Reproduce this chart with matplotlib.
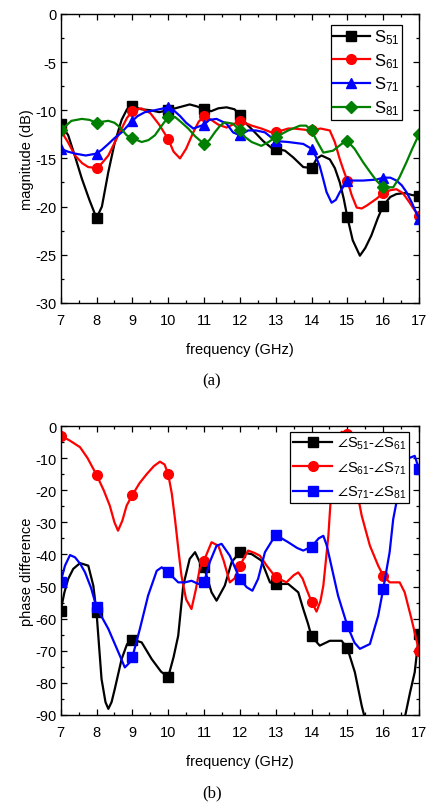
import numpy as np
import matplotlib
matplotlib.use("Agg")
import matplotlib.pyplot as plt
from matplotlib.ticker import MultipleLocator

plt.rcParams['font.family'] = ['Liberation Sans', 'DejaVu Sans']
plt.rcParams['mathtext.fontset'] = 'custom'
plt.rcParams['mathtext.rm'] = 'Liberation Sans'
plt.rcParams['mathtext.it'] = 'Liberation Sans:italic'
plt.rcParams['mathtext.bf'] = 'Liberation Sans:bold'
plt.rcParams['mathtext.fallback'] = 'stixsans'
plt.rcParams['axes.unicode_minus'] = False

# ---------------- (a) magnitude data ----------------
f_s51 = [7.0, 7.21, 7.4, 7.59, 7.8, 8.0, 8.15, 8.33, 8.5, 8.7, 8.85, 9.0, 9.25, 9.5, 9.75,
         10.0, 10.3, 10.6, 10.8, 11.0, 11.2, 11.4, 11.63, 11.85, 12.0, 12.18, 12.42, 12.65,
         12.88, 13.0, 13.26, 13.49, 13.77, 14.0, 14.15, 14.28, 14.51, 14.65, 14.79, 14.9,
         15.0, 15.15, 15.35, 15.5, 15.67, 15.85, 16.0, 16.2, 16.37, 16.6, 16.8, 17.0]
s51 = [-11.4, -12.6, -14.8, -17.1, -19.3, -21.2, -20.0, -16.4, -13.5, -11.0, -9.9, -9.6, -9.9,
       -10.0, -10.2, -10.0, -9.7, -9.4, -9.6, -9.9, -10.1, -9.8, -9.7, -9.9, -10.5, -11.4,
       -12.3, -13.2, -13.9, -14.0, -14.2, -14.9, -15.9, -16.0, -15.0, -14.7, -15.1, -16.0,
       -17.5, -19.2, -21.1, -23.5, -25.1, -24.3, -23.0, -21.2, -19.9, -19.0, -18.7, -18.6,
       -18.8, -18.9]

f_s61 = [7.0, 7.2, 7.4, 7.6, 7.77, 8.0, 8.15, 8.33, 8.5, 8.7, 8.85, 9.0, 9.25, 9.5, 9.75,
         10.0, 10.15, 10.33, 10.5, 10.7, 10.85, 11.0, 11.2, 11.4, 11.63, 11.85, 12.0, 12.33,
         12.6, 12.88, 13.0, 13.35, 13.5, 13.75, 14.0, 14.25, 14.51, 14.65, 14.79, 14.9, 15.0,
         15.12, 15.26, 15.4, 15.54, 15.81, 16.0, 16.2, 16.37, 16.55, 16.74, 16.88, 17.0]
s61 = [-12.1, -13.3, -14.7, -15.5, -15.9, -16.0, -15.5, -14.7, -13.4, -11.9, -10.8, -10.1,
       -9.8, -10.3, -11.5, -13.0, -14.3, -15.0, -14.0, -12.3, -11.2, -10.6, -11.0, -11.5,
       -11.8, -11.4, -11.1, -11.6, -11.9, -12.3, -12.3, -11.9, -11.9, -12.0, -12.1, -11.9,
       -12.1, -13.3, -15.1, -16.3, -17.3, -18.8, -20.1, -20.2, -19.9, -19.2, -18.6, -18.3,
       -18.2, -18.6, -19.6, -20.4, -21.0]

f_s71 = [7.0, 7.2, 7.4, 7.7, 8.0, 8.15, 8.33, 8.5, 8.7, 9.0, 9.15, 9.35, 9.63, 10.0, 10.15,
         10.33, 10.5, 10.7, 11.0, 11.15, 11.35, 11.63, 11.81, 12.0, 12.23, 12.45, 12.7, 13.0,
         13.35, 13.77, 14.0, 14.12, 14.23, 14.33, 14.42, 14.56, 14.68, 14.79, 15.0, 15.44,
         15.81, 16.0, 16.2, 16.37, 16.52, 16.65, 16.8, 17.0]
s71 = [-14.0, -14.3, -14.5, -14.7, -14.5, -14.1, -13.5, -12.9, -12.3, -11.1, -10.6, -10.2,
       -10.0, -9.7, -10.0, -10.6, -11.3, -11.9, -11.5, -11.0, -10.9, -11.4, -12.3, -12.6,
       -12.1, -12.1, -12.3, -13.2, -13.3, -13.5, -14.0, -14.8, -15.8, -17.2, -18.5, -19.6,
       -19.3, -18.5, -17.3, -17.3, -17.2, -17.0, -17.0, -17.3, -17.8, -18.5, -19.6, -21.3]

f_s81 = [7.0, 7.15, 7.3, 7.59, 7.8, 8.0, 8.15, 8.33, 8.5, 8.6, 8.75, 8.84, 9.0, 9.26, 9.45,
         9.63, 9.8, 10.0, 10.19, 10.35, 10.56, 10.75, 11.0, 11.15, 11.3, 11.45, 11.58, 11.81,
         12.0, 12.15, 12.33, 12.6, 12.8, 13.0, 13.35, 13.68, 13.85, 14.0, 14.15, 14.33, 14.6,
         14.84, 15.0, 15.2, 15.44, 15.65, 15.81, 16.0, 16.28, 16.45, 16.65, 16.8, 17.0]
s81 = [-12.1, -11.6, -11.1, -10.9, -11.0, -11.3, -11.2, -11.1, -11.3, -11.6, -12.2, -12.6,
       -12.9, -13.3, -13.1, -12.6, -11.7, -10.7, -10.7, -11.2, -11.9, -12.7, -13.5, -13.1,
       -12.3, -11.6, -11.25, -11.4, -12.1, -12.8, -13.3, -13.7, -13.3, -12.8, -12.1, -11.6,
       -11.6, -12.1, -13.2, -14.4, -14.2, -13.5, -13.2, -14.0, -15.4, -16.5, -17.3, -18.0,
       -18.0, -17.0, -15.4, -14.1, -12.5]

# ---------------- (b) phase difference data ----------------
f_p1 = [7.0, 7.1, 7.21, 7.35, 7.54, 7.77, 7.91, 8.0, 8.14, 8.25, 8.33, 8.42, 8.51, 8.7, 8.85,
        9.0, 9.26, 9.54, 9.8, 10.0, 10.15, 10.28, 10.42, 10.6, 10.75, 10.88, 11.0, 11.21,
        11.35, 11.58, 11.77, 12.0, 12.33, 12.6, 12.84, 13.0, 13.35, 13.63, 13.77, 13.9, 14.0,
        14.23, 14.51, 14.84, 15.0, 15.21, 15.4, 15.5, 15.75, 16.0, 16.3, 16.6, 16.75, 16.88,
        17.0]
p1 = [-57.5, -52.0, -47.6, -44.5, -42.7, -43.5, -49.7, -58.0, -78.8, -86.0, -88.1, -86.0,
      -81.9, -72.6, -68.0, -66.5, -67.4, -72.6, -76.5, -78.2, -72.0, -65.3, -49.7, -41.4,
      -39.3, -42.4, -44.0, -51.8, -54.4, -49.7, -42.4, -39.3, -39.9, -41.9, -48.7, -49.2,
      -49.2, -51.8, -57.0, -61.5, -65.5, -68.4, -66.9, -66.9, -69.2, -76.7, -87.1, -91.5,
      -98.0, -102.0, -98.0, -91.0, -83.0, -76.7, -64.8]

f_p2 = [7.0, 7.25, 7.54, 7.75, 8.0, 8.2, 8.37, 8.5, 8.6, 8.72, 8.84, 9.0, 9.2, 9.4, 9.6,
        9.77, 9.9, 10.0, 10.1, 10.19, 10.3, 10.37, 10.5, 10.65, 10.77, 10.88, 11.0, 11.21,
        11.4, 11.55, 11.72, 11.85, 12.0, 12.23, 12.4, 12.56, 12.75, 13.0, 13.3, 13.5, 13.63,
        13.75, 13.86, 14.0, 14.14, 14.25, 14.33, 14.4, 14.47, 14.56, 14.63, 14.7, 14.84,
        15.0, 15.08, 15.16, 15.28, 15.4, 15.5, 15.63, 15.86, 16.0, 16.18, 16.46, 16.6,
        16.79, 17.0]
p2 = [-3.0, -4.5, -6.6, -10.0, -15.2, -20.0, -24.8, -30.0, -32.6, -29.5, -24.8, -21.5,
      -17.8, -15.0, -12.5, -11.1, -12.0, -15.0, -21.0, -29.0, -40.0, -46.6, -54.0, -57.0,
      -51.0, -44.5, -41.9, -36.2, -37.3, -42.0, -48.7, -47.5, -43.5, -38.8, -39.5, -40.4,
      -43.5, -47.1, -48.7, -46.5, -45.6, -47.5, -50.8, -54.7, -57.8, -54.5, -49.7, -42.0,
      -34.2, -18.6, -11.0, -6.1, -1.8, -2.6, -7.0, -13.0, -21.0, -27.9, -32.0, -37.3,
      -43.5, -46.6, -48.7, -48.7, -51.8, -60.1, -70.0]

f_p3 = [7.0, 7.12, 7.26, 7.4, 7.55, 7.68, 7.85, 8.0, 8.33, 8.65, 8.79, 8.93, 9.0, 9.21, 9.44,
        9.68, 9.82, 10.0, 10.28, 10.47, 10.65, 10.84, 11.0, 11.16, 11.35, 11.49, 11.72, 12.0,
        12.19, 12.35, 12.51, 12.7, 13.0, 13.35, 13.6, 13.77, 14.0, 14.2, 14.33, 14.42, 14.51,
        14.74, 15.0, 15.2, 15.35, 15.63, 15.86, 16.0, 16.18, 16.28, 16.46, 16.65, 16.88, 17.0]
p3 = [-48.5, -43.5, -40.2, -40.9, -43.0, -45.6, -50.5, -56.5, -63.2, -71.5, -75.2, -73.6,
      -72.0, -63.2, -52.8, -45.1, -44.0, -45.6, -48.7, -48.7, -48.2, -49.2, -48.7, -42.4,
      -37.3, -36.7, -40.4, -47.6, -50.2, -51.3, -47.6, -39.3, -33.9, -36.2, -38.0, -38.8,
      -37.6, -35.0, -34.2, -37.0, -41.4, -52.8, -62.2, -67.5, -69.4, -67.9, -59.1, -50.8,
      -39.3, -29.0, -18.6, -10.3, -9.3, -13.4]

mag_series = [(f_s51, s51, 'S$_{51}$', 'black', 's', 6.5),
              (f_s61, s61, 'S$_{61}$', '#ff0000', 'o', 7),
              (f_s71, s71, 'S$_{71}$', '#0000ff', '^', 7),
              (f_s81, s81, 'S$_{81}$', '#008000', 'D', 6.5)]
ph_series = [(f_p1, p1, r'$\angle$S$_{51}$-$\angle$S$_{61}$', 'black', 's', 6.5),
             (f_p2, p2, r'$\angle$S$_{61}$-$\angle$S$_{71}$', '#ff0000', 'o', 7),
             (f_p3, p3, r'$\angle$S$_{71}$-$\angle$S$_{81}$', '#0000ff', 's', 6.5)]

fig = plt.figure(figsize=(4.28, 8.04), dpi=100)
ax1 = fig.add_axes([0.1418, 0.622, 0.8372, 0.3595])
ax2 = fig.add_axes([0.1418, 0.1095, 0.8372, 0.3594])


def int_idx(f):
    f = np.asarray(f)
    return [i for i, v in enumerate(f) if abs(v - round(v)) < 1e-6]


def style(ax, ymin, ymax, ymaj, ymin_step):
    ax.set_xlim(7, 17)
    ax.set_ylim(ymin, ymax)
    ax.xaxis.set_major_locator(MultipleLocator(1))
    ax.xaxis.set_minor_locator(MultipleLocator(0.5))
    ax.yaxis.set_major_locator(MultipleLocator(ymaj))
    ax.yaxis.set_minor_locator(MultipleLocator(ymin_step))
    ax.tick_params(which='both', direction='in', top=True, right=True, width=0.9,
                   labelsize=10.5, colors='black')
    ax.tick_params(which='major', length=4.5)
    ax.tick_params(which='minor', length=2.5)
    ax.tick_params(axis='x', pad=7)
    ax.tick_params(axis='y', pad=3)
    for s in ax.spines.values():
        s.set_linewidth(1.0)
    ax.set_xlabel('frequency (GHz)', fontsize=10.5, labelpad=11)


for f, v, lab, c, m, ms in mag_series:
    ax1.plot(f, v, color=c, lw=1.6, marker=m, ms=ms, markevery=int_idx(f), label=lab)
style(ax1, -30, 0, 5, 2.5)
ax1.set_ylabel('magnitude (dB)', fontsize=10.5, labelpad=1)
leg1 = ax1.legend(loc='upper right', bbox_to_anchor=(0.9525, 0.962), borderaxespad=0,
                  fontsize=12, frameon=True, fancybox=False, edgecolor='black',
                  framealpha=1, handlelength=2.2, handletextpad=0.25, labelspacing=0.3,
                  borderpad=0.15)
leg1.get_frame().set_linewidth(0.9)

for f, v, lab, c, m, ms in ph_series:
    ax2.plot(f, v, color=c, lw=1.6, marker=m, ms=ms, markevery=int_idx(f), label=lab)
style(ax2, -90, 0, 10, 5)
ax2.set_ylabel('phase difference', fontsize=10.5, labelpad=1)
leg2 = ax2.legend(loc='upper right', bbox_to_anchor=(0.972, 0.979), borderaxespad=0,
                  fontsize=10.5, frameon=True, fancybox=False, edgecolor='black',
                  framealpha=1, handlelength=2.7, handletextpad=0.3, labelspacing=0.55,
                  borderpad=0.2)
leg2.get_frame().set_linewidth(0.9)

fig.text(0.495, 1 - 381.7 / 804, '(a)', family='Liberation Serif', fontsize=12,
         ha='center', va='center')
fig.text(0.495, 1 - 793 / 804, '(b)', family='Liberation Serif', fontsize=12,
         ha='center', va='center')

fig.savefig('out.png', dpi=100)
